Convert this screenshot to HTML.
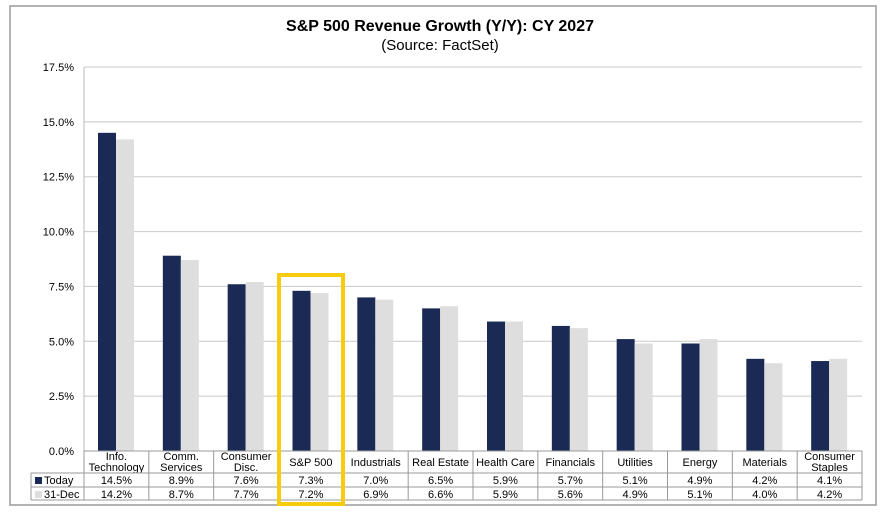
<!DOCTYPE html>
<html><head><meta charset="utf-8"><style>
body{margin:0;background:#fff;}
svg text{font-family:"Liberation Sans",Arial,sans-serif;}
</style></head><body>
<svg id="c" width="880" height="513" xmlns="http://www.w3.org/2000/svg">
<rect x="10" y="6" width="866" height="499" fill="#fff" stroke="#9a9a9a" stroke-width="1.5"/>
<text x="440" y="31" text-anchor="middle" font-size="16" font-weight="bold">S&amp;P 500 Revenue Growth (Y/Y):  CY 2027</text>
<text x="440" y="50" text-anchor="middle" font-size="15">(Source: FactSet)</text>
<g id="grid"></g><g id="bars"></g><g id="tbl"></g>
<rect x="279" y="275" width="64" height="229" fill="none" stroke="#f7cc0c" stroke-width="4"/>
</svg>
<script>
const categories=[["Info.","Technology"],["Comm.","Services"],["Consumer","Disc."],["S&P 500"],["Industrials"],["Real Estate"],["Health Care"],["Financials"],["Utilities"],["Energy"],["Materials"],["Consumer","Staples"]];
const todayValues=[14.5,8.9,7.6,7.3,7.0,6.5,5.9,5.7,5.1,4.9,4.2,4.1];
const decValues=[14.2,8.7,7.7,7.2,6.9,6.6,5.9,5.6,4.9,5.1,4.0,4.2];
const yTicks=[0,2.5,5,7.5,10,12.5,15,17.5];
const NS="http://www.w3.org/2000/svg";
const L=84,R=862,T=67,B=451,ymax=17.5;
const cw=(R-L)/categories.length;
const y=v=>B-(v/ymax)*(B-T);
function mk(tag,at,parent,txt){const e=document.createElementNS(NS,tag);for(const k in at)e.setAttribute(k,at[k]);if(txt!==undefined)e.textContent=txt;parent.appendChild(e);return e;}
const g=document.getElementById('grid'),b=document.getElementById('bars'),t=document.getElementById('tbl');
yTicks.forEach(v=>{
 const l=mk('line',{x1:L,x2:R,y1:y(v),y2:y(v),stroke:'#c8c8c8','stroke-width':1},g);
 
 
 const tx=mk('text',{x:L-10,y:y(v)+4,'text-anchor':'end','font-size':11},g,v.toFixed(1)+'%');
 
 
});
mk('line',{x1:L,x2:L,y1:T,y2:B,stroke:'#bbb'},g);
categories.forEach((c,i)=>{
 const x0=L+i*cw;
 const r1=mk('rect',{x:x0+14,y:y(todayValues[i]),width:18,height:B-y(todayValues[i]),fill:'#1a2a54'},b);
 
 
 const r2=mk('rect',{x:x0+32,y:y(decValues[i]),width:18,height:B-y(decValues[i]),fill:'#dedede'},b);
 
 
 const cx=x0+cw/2;
 if(c.length===2){
  const a=mk('text',{x:cx,y:460,'text-anchor':'middle','font-size':11},t,c[0]);
  
  const a2=mk('text',{x:cx,y:471,'text-anchor':'middle','font-size':11},t,c[1]);
  
 }else{
  const a=mk('text',{x:cx,y:466,'text-anchor':'middle','font-size':11},t,c[0]);
  
 }
 const v1=mk('text',{x:cx,y:484,'text-anchor':'middle','font-size':11},t,todayValues[i].toFixed(1)+'%');
 
 const v2=mk('text',{x:cx,y:498,'text-anchor':'middle','font-size':11},t,decValues[i].toFixed(1)+'%');
 
});
const ln=(x1,y1,x2,y2)=>mk('line',{x1,y1,x2,y2,stroke:'#999','stroke-width':1},t);
ln(L,B,R,B);ln(31,473,R,473);ln(31,487,R,487);ln(31,500,R,500);
ln(31,473,31,500);
for(let i=0;i<=categories.length;i++)ln(L+i*cw,B,L+i*cw,500);
mk('rect',{x:35,y:477,width:7,height:7,fill:'#1a2a54'},t);
const lg1=mk('text',{x:44,y:484,'font-size':11},t,'Today');

mk('rect',{x:35,y:491,width:7,height:7,fill:'#dedede'},t);
const lg2=mk('text',{x:44,y:498,'font-size':11},t,'31-Dec');

</script>
</body></html>
